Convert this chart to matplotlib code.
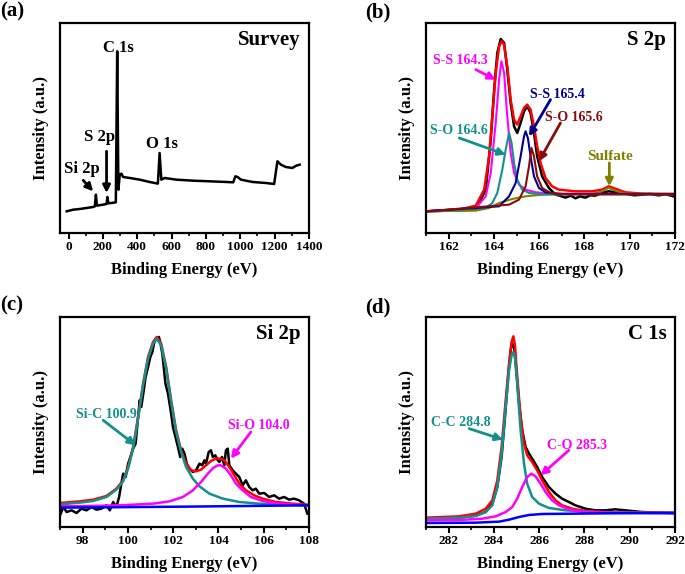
import numpy as np
import matplotlib
matplotlib.use("Agg")
import matplotlib.pyplot as plt

plt.rcParams['font.family'] = ['Liberation Serif', 'DejaVu Serif']
plt.rcParams['font.weight'] = 'bold'
plt.rcParams['axes.labelweight'] = 'bold'

# ---- (a) survey ----
sv_e = [-11, 27, 66, 105, 143, 153, 159, 165, 201, 221,
        226, 232, 250, 275, 283, 290, 298, 308, 317, 356,
        414, 472, 520, 530, 540, 559, 627, 723, 820, 917,
        959, 971, 984, 1003, 1071, 1148, 1197, 1216, 1236, 1265,
        1303, 1326, 1346]
sv_i = [65, 70, 72, 75, 78, 80, 115, 82, 85, 87,
        108, 89, 90, 92, 545, 130, 175, 178, 168, 165,
        160, 153, 148, 240, 160, 165, 160, 157, 155, 153,
        152, 170, 168, 160, 153, 150, 147, 215, 205, 198,
        195, 202, 205]

# ---- (b) S 2p ----
s_exp_e = [161.00, 163.20, 163.64, 163.86, 164.01, 164.15, 164.30, 164.45, 164.59, 164.74,
           164.89, 165.03, 165.18, 165.33, 165.47, 165.62, 165.77, 165.91, 166.13, 166.43,
           166.72, 166.90, 167.16, 167.40, 167.60, 167.80, 168.04, 168.25, 168.48, 168.77,
           169.07, 169.36, 169.80, 170.20, 170.53, 170.90, 171.27, 171.60, 171.93]
s_exp_i = [65, 70, 130, 280, 430, 540, 582, 570, 490, 390,
           320, 300, 330, 365, 380, 360, 300, 230, 170, 135,
           115, 112, 106, 112, 104, 110, 106, 113, 112, 120,
           125, 122, 118, 113, 115, 117, 113, 116, 110]
s_fit_e = [161.00, 162.47, 163.20, 163.57, 163.79, 163.93, 164.08, 164.23, 164.34, 164.45,
           164.59, 164.74, 164.89, 165.03, 165.18, 165.33, 165.47, 165.62, 165.77, 165.91,
           166.06, 166.28, 166.57, 166.87, 167.60, 168.33, 168.77, 169.07, 169.36, 169.80,
           170.53, 171.27, 171.93]
s_fit_i = [65, 70, 82, 130, 230, 350, 480, 560, 575, 565,
           500, 400, 340, 325, 350, 375, 385, 370, 320, 260,
           210, 165, 140, 130, 125, 125, 130, 140, 133, 122,
           118, 117, 117]
ss1_e = [161.00, 163.20, 163.64, 163.86, 164.08, 164.23, 164.33, 164.45, 164.59, 164.74,
         164.89, 165.11, 165.40, 165.84, 166.57, 171.93]
ss1_i = [65, 75, 110, 180, 330, 460, 515, 480, 350, 240,
         180, 145, 130, 122, 118, 117]
so1_e = [161.00, 163.64, 163.93, 164.15, 164.37, 164.52, 164.67, 164.78, 164.89, 165.03,
         165.25, 165.55, 166.13, 171.93]
so1_i = [65, 75, 90, 120, 190, 250, 300, 270, 210, 160,
         130, 120, 116, 116]
ss2_e = [161.00, 164.23, 164.67, 164.96, 165.18, 165.33, 165.40, 165.50, 165.62, 165.77,
         165.99, 166.28, 166.87, 171.93]
ss2_i = [65, 80, 110, 150, 230, 290, 305, 285, 230, 170,
         135, 122, 117, 117]
so2_e = [161.00, 164.67, 165.11, 165.40, 165.55, 165.66, 165.77, 165.91, 166.13, 166.50,
         167.16, 171.93]
so2_i = [65, 85, 100, 140, 200, 255, 230, 170, 135, 120,
         116, 116]
sulf_e = [161.00, 163.20, 163.79, 164.23, 164.81, 165.40, 166.13, 166.87, 168.33, 168.77,
          169.07, 169.36, 169.80, 171.93]
sulf_i = [65, 67, 75, 90, 102, 110, 115, 116, 117, 125,
          135, 127, 118, 117]

# ---- (c) Si 2p ----
si_exp_e = [97.00, 97.15, 97.29, 97.51, 97.73, 97.95, 98.17, 98.39, 98.61, 98.83,
            99.05, 99.20, 99.35, 99.49, 99.61, 99.71, 99.79, 99.90, 100.01, 100.11,
            100.23, 100.34, 100.45, 100.52, 100.59, 100.70, 100.78, 100.89, 100.99, 101.08,
            101.15, 101.22, 101.30, 101.37, 101.44, 101.52, 101.58, 101.66, 101.77, 101.84,
            101.91, 101.99, 102.10, 102.21, 102.31, 102.40, 102.50, 102.60, 102.72, 102.87,
            103.01, 103.16, 103.28, 103.38, 103.45, 103.57, 103.67, 103.75, 103.86, 103.97,
            104.04, 104.16, 104.26, 104.33, 104.41, 104.48, 104.63, 104.77, 104.92, 105.07,
            105.21, 105.36, 105.51, 105.65, 105.80, 106.02, 106.24, 106.46, 106.68, 106.90,
            107.12, 107.34, 107.56, 107.78, 107.93]
si_exp_i = [35, 60, 45, 50, 42, 55, 50, 60, 52, 55,
            65, 50, 75, 60, 90, 130, 160, 150, 190, 210,
            235, 250, 330, 380, 360, 410, 450, 480, 510, 525,
            550, 565, 560, 570, 550, 520, 480, 430, 400, 370,
            340, 300, 270, 240, 210, 235, 220, 190, 175, 165,
            170, 190, 185, 200, 190, 225, 230, 210, 215, 200,
            195, 210, 185, 230, 235, 185, 170, 160, 150, 125,
            140, 120, 110, 115, 100, 102, 90, 95, 85, 90,
            82, 85, 80, 70, 40]
si_fit_e = [97.00, 97.88, 98.47, 99.05, 99.49, 99.79, 100.01, 100.23, 100.45, 100.67,
            100.89, 101.11, 101.28, 101.47, 101.69, 101.91, 102.13, 102.35, 102.57, 102.79,
            103.01, 103.23, 103.45, 103.67, 103.89, 104.07, 104.26, 104.48, 104.70, 104.92,
            105.21, 105.58, 105.95, 106.53, 107.27, 107.93]
si_fit_i = [72, 77, 82, 93, 115, 140, 180, 240, 330, 430,
            510, 555, 570, 550, 480, 380, 290, 230, 190, 170,
            167, 172, 185, 198, 205, 205, 200, 180, 155, 130,
            110, 95, 85, 75, 70, 67]
sic_e = [97.00, 97.88, 98.47, 99.05, 99.49, 99.79, 100.01, 100.23, 100.45, 100.67,
         100.89, 101.11, 101.27, 101.47, 101.69, 101.91, 102.13, 102.35, 102.57, 102.87,
         103.16, 103.60, 104.19, 104.92, 105.80, 106.97, 107.93]
sic_i = [68, 73, 78, 90, 112, 137, 175, 235, 325, 425,
         505, 550, 565, 545, 475, 375, 285, 225, 180, 145,
         122, 100, 85, 75, 70, 67, 65]
sio_e = [97.00, 98.47, 99.93, 101.11, 101.84, 102.43, 102.87, 103.23, 103.53, 103.78,
         103.97, 104.11, 104.33, 104.55, 104.77, 105.07, 105.43, 105.95, 106.68, 107.93]
sio_i = [62, 63, 66, 70, 77, 90, 110, 135, 160, 178,
         185, 185, 175, 155, 130, 110, 90, 78, 70, 65]
si_bg_e = [97.00, 102.50, 107.93]
si_bg_i = [58, 61, 65]

# ---- (d) C 1s ----
c_exp_e = [281.00, 282.47, 283.20, 283.64, 283.93, 284.15, 284.34, 284.49, 284.64, 284.74,
           284.81, 284.89, 284.99, 285.11, 285.25, 285.40, 285.55, 285.69, 285.91, 286.13,
           286.43, 286.72, 287.01, 287.31, 287.60, 288.04, 288.48, 288.92, 289.36, 289.80,
           290.53, 291.27, 291.93]
c_exp_i = [25, 28, 34, 45, 70, 120, 210, 330, 460, 530,
           550, 540, 470, 370, 290, 240, 220, 205, 180, 150,
           120, 100, 85, 75, 65, 55, 50, 50, 53, 50,
           45, 43, 42]
c_fit_e = [281.00, 282.47, 283.20, 283.64, 283.93, 284.15, 284.34, 284.52, 284.67, 284.78,
           284.86, 284.93, 285.03, 285.18, 285.33, 285.47, 285.69, 285.91, 286.13, 286.43,
           286.72, 287.01, 287.45, 288.04, 288.92, 289.80, 291.93]
c_fit_i = [28, 32, 40, 55, 80, 140, 240, 380, 490, 555,
           572, 545, 450, 330, 250, 215, 195, 170, 140, 105,
           80, 65, 55, 48, 45, 43, 42]
cc_e = [281.00, 282.47, 283.20, 283.64, 283.93, 284.15, 284.34, 284.52, 284.67, 284.78,
        284.86, 284.93, 285.03, 285.18, 285.33, 285.47, 285.69, 285.99, 286.43, 287.16,
        288.33, 289.80, 291.93]
cc_i = [25, 28, 33, 45, 65, 120, 220, 360, 470, 515,
        525, 510, 430, 290, 190, 130, 90, 70, 57, 50,
        45, 43, 42]
co_e = [281.00, 282.47, 283.49, 284.08, 284.52, 284.81, 285.03, 285.25, 285.47, 285.66,
        285.84, 286.06, 286.28, 286.57, 286.87, 287.31, 287.89, 288.92, 291.93]
co_i = [20, 21, 25, 32, 45, 60, 85, 120, 150, 160,
        152, 130, 105, 80, 65, 53, 46, 43, 42]
c_bg_e = [281.00, 283.20, 284.23, 284.67, 285.11, 285.55, 286.13, 287.60, 289.07, 291.93]
c_bg_i = [12, 13, 16, 22, 30, 36, 39, 40, 41, 42]

TEAL = '#12908e'
MAG = '#ff00ff'
NAVY = '#000090'
DRED = '#8b0a0a'
OLIVE = '#808000'

fig = plt.figure(figsize=(6.85, 5.74), dpi=100)
ax_a = fig.add_axes([0.0876, 0.5941, 0.3635, 0.3659])
ax_b = fig.add_axes([0.6219, 0.5941, 0.3635, 0.3659])
ax_c = fig.add_axes([0.0876, 0.0819, 0.3635, 0.3659])
ax_d = fig.add_axes([0.6219, 0.0819, 0.3635, 0.3659])


def style(ax, xlim, ticks, minor, title):
    ax.set_xlim(*xlim)
    ax.set_ylim(0, 630)
    ax.set_yticks([])
    ax.set_xticks(ticks)
    ax.set_xticks(minor, minor=True)
    ax.tick_params(axis='x', which='major', direction='out', length=4, width=1.5, labelsize=9.5, pad=2)
    ax.tick_params(axis='x', which='minor', direction='out', length=2.5, width=1.2)
    for s in ax.spines.values():
        s.set_linewidth(1.6)
    ax.set_xlabel('Binding Energy (eV)', fontsize=12, labelpad=6)
    ax.set_ylabel('Intensity (a.u.)', fontsize=12, labelpad=8)
    ax.text(0.965, 0.965, title, transform=ax.transAxes, ha='right', va='top', fontsize=15)


def arrow(ax, text, xy, xytext, color, fs=10, tx=None):
    ax.annotate('', xy=xy, xytext=xytext,
                arrowprops=dict(arrowstyle='-|>', color=color, lw=2, mutation_scale=11, shrinkA=0, shrinkB=0))
    if text is not None:
        ax.text(tx[0], tx[1], text, color=color, fontsize=fs, ha='center', va='center')


# (a)
ax_a.plot(sv_e, sv_i, color='black', lw=1.8)
style(ax_a, (-50, 1400), np.arange(0, 1401, 200), np.arange(0, 1401, 100), 'Survey')
ax_a.text(288, 555, 'C 1s', fontsize=12, ha='center', va='center')
ax_a.text(543, 268, 'O 1s', fontsize=12, ha='center', va='center')
arrow(ax_a, 'S 2p', (221, 120), (221, 245), 'black', 12, (182, 287))
arrow(ax_a, 'Si 2p', (143, 125), (85, 158), 'black', 12, (76, 192))

# (b)
ax_b.plot(s_exp_e, s_exp_i, color='black', lw=1.8)
ax_b.plot(s_fit_e, s_fit_i, color='red', lw=1.8)
ax_b.plot(sulf_e, sulf_i, color=OLIVE, lw=1.5)
ax_b.plot(ss1_e, ss1_i, color=MAG, lw=1.5)
ax_b.plot(so1_e, so1_i, color=TEAL, lw=1.5)
ax_b.plot(ss2_e, ss2_i, color=NAVY, lw=1.5)
ax_b.plot(so2_e, so2_i, color=DRED, lw=1.5)
style(ax_b, (161, 172), np.arange(162, 172.1, 2), np.arange(161, 172.1, 1), 'S 2p')
arrow(ax_b, 'S-S 164.3', (164.08, 460), (163.2, 490), MAG, 10, (162.54, 518))
arrow(ax_b, 'S-O 164.6', (164.52, 235), (162.47, 285), TEAL, 10, (162.47, 308))
arrow(ax_b, 'S-S 165.4', (165.55, 290), (166.5, 400), NAVY, 10, (166.79, 415))
arrow(ax_b, 'S-O 165.6', (165.99, 215), (166.94, 330), DRED, 10, (167.53, 345))
arrow(ax_b, 'Sulfate', (169.1, 140), (169.1, 210), OLIVE, 11, (169.14, 228))

# (c)
ax_c.plot(si_exp_e, si_exp_i, color='black', lw=1.8)
ax_c.plot(si_fit_e, si_fit_i, color='red', lw=1.8)
ax_c.plot(sic_e, sic_i, color=TEAL, lw=1.8)
ax_c.plot(sio_e, sio_i, color=MAG, lw=1.8)
ax_c.plot(si_bg_e, si_bg_i, color='blue', lw=1.8)
style(ax_c, (97, 108), np.arange(98, 108.1, 2), np.arange(97, 108.1, 1), 'Si 2p')
arrow(ax_c, 'Si-C 100.9', (100.34, 245), (98.91, 320), TEAL, 10, (99.05, 338))
arrow(ax_c, 'Si-O 104.0', (104.55, 205), (105.43, 285), MAG, 10, (105.8, 303))

# (d)
ax_d.plot(c_exp_e, c_exp_i, color='black', lw=1.8)
ax_d.plot(c_fit_e, c_fit_i, color='red', lw=1.8)
ax_d.plot(cc_e, cc_i, color=TEAL, lw=1.8)
ax_d.plot(co_e, co_i, color=MAG, lw=1.8)
ax_d.plot(c_bg_e, c_bg_i, color='blue', lw=1.8)
style(ax_d, (281, 292), np.arange(282, 292.1, 2), np.arange(281, 292.1, 1), 'C 1s')
arrow(ax_d, 'C-C 284.8', (284.40, 262), (282.91, 295), TEAL, 10, (282.54, 312))
arrow(ax_d, 'C-O 285.3', (286.06, 155), (287.31, 230), MAG, 10, (287.67, 245))

for ax in (ax_a, ax_b, ax_c, ax_d):
    for lab in ax.get_xticklabels():
        lab.set_fontweight('bold')

fig.text(0.0, 0.998, '(a)', fontsize=15, ha='left', va='top')
fig.text(0.533, 0.995, '(b)', fontsize=15, ha='left', va='top')
fig.text(0.0, 0.485, '(c)', fontsize=15, ha='left', va='top')
fig.text(0.533, 0.482, '(d)', fontsize=15, ha='left', va='top')

fig.savefig('out.png', dpi=100)
